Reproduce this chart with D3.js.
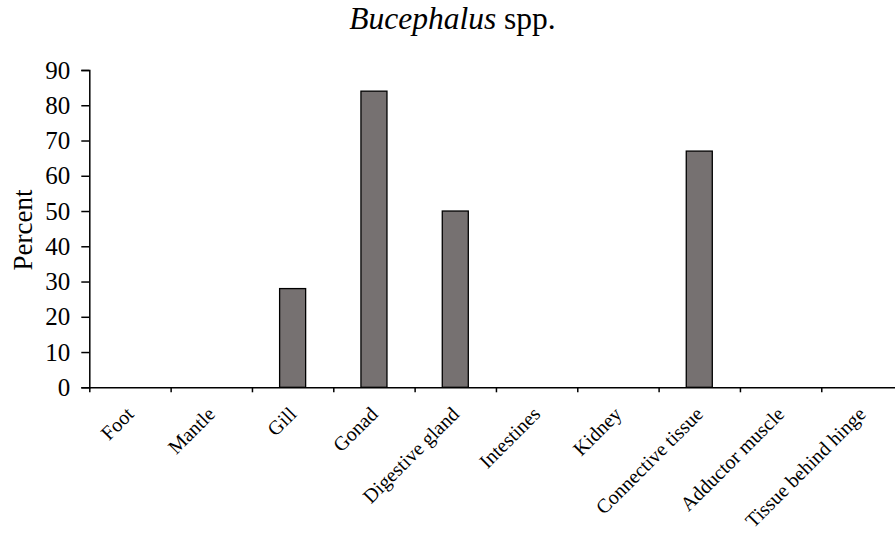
<!DOCTYPE html>
<html><head><meta charset="utf-8">
<script src="https://cdn.jsdelivr.net/npm/d3@7"></script>
<style>body{margin:0;background:#fff}svg{display:block}text{font-family:"Liberation Serif","Times New Roman",serif;fill:#000}</style>
</head><body>
<script>
const categories = ["Foot","Mantle","Gill","Gonad","Digestive gland","Intestines","Kidney","Connective tissue","Adductor muscle","Tissue behind hinge"];
const values = [0,0,28,84,50,0,0,67,0,0];
const yTicks = [0,10,20,30,40,50,60,70,80,90];
const titleItalic = "Bucephalus";
const titleRest = " spp.";
const yLabel = "Percent";

(function(){
const W = 895, H = 533;
const mL = 89.3, mR = 902.6, mT = 70, mB = 387.3;
const svg = d3.select("body").append("svg").attr("width", W).attr("height", H);

const x = d3.scaleBand().domain(categories).range([mL, mR]).paddingInner(0.68).paddingOuter(0.34);
const xb = d3.scaleLinear().domain([0, categories.length]).range([mL, mR]);
const y = d3.scaleLinear().domain([0, 90]).range([mB, mT]);

svg.append("g").selectAll("rect").data(categories.map((c,i)=>({c, v: values[i]})).filter(d=>d.v>0))
  .join("rect")
  .attr("x", d=>x(d.c)).attr("width", x.bandwidth())
  .attr("y", d=>y(d.v)).attr("height", d=>y(0)-y(d.v))
  .attr("fill", "#767171").attr("stroke", "#000").attr("stroke-width", 1.3);

const ya = svg.append("g").attr("transform", `translate(${mL},0)`)
  .call(d3.axisLeft(y).tickValues(yTicks).tickSize(8).tickPadding(11).tickFormat(d3.format("d")));
ya.select(".domain").attr("stroke", "#000").attr("stroke-width", 1.5);
ya.selectAll(".tick line").attr("stroke", "#000").attr("stroke-width", 1.5);
ya.selectAll(".tick text").attr("font-size", 25).attr("font-family", "Liberation Serif").attr("fill", "#000");

const xa = svg.append("g").attr("transform", `translate(0,${mB})`)
  .call(d3.axisBottom(xb).tickValues(d3.range(0, categories.length + 1)).tickSize(5).tickSizeOuter(0).tickFormat(""));
xa.select(".domain").attr("stroke", "#000").attr("stroke-width", 1.5);
xa.selectAll(".tick line").attr("stroke", "#000").attr("stroke-width", 1.5);

svg.append("g").selectAll("text").data(categories).join("text")
  .attr("transform", d => `translate(${x(d) + x.bandwidth()/2 + 5},${mB + 28}) rotate(-45)`)
  .attr("text-anchor", "end")
  .attr("font-size", 20).text(d=>d);

svg.append("text").attr("transform", `translate(32,230) rotate(-90)`)
  .attr("text-anchor", "middle").attr("font-size", 27).text(yLabel);

const t = svg.append("text").attr("x", 452.5).attr("y", 29).attr("text-anchor", "middle").attr("font-size", 31.5);
t.append("tspan").attr("font-style", "italic").text(titleItalic);
t.append("tspan").text(titleRest);
})();
</script>
</body></html>
